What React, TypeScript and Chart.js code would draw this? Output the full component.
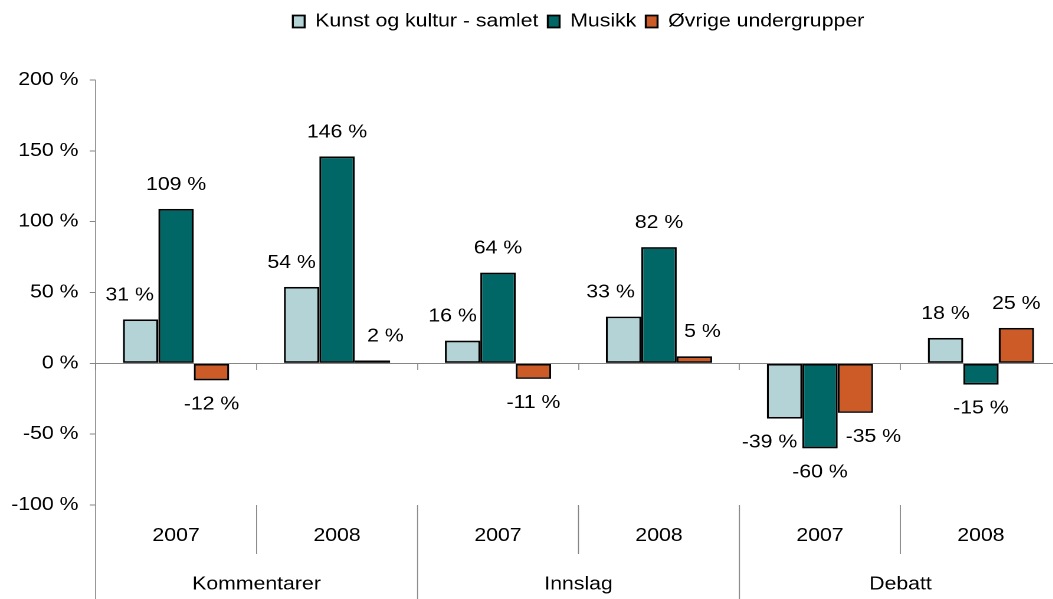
import React, { useEffect, useRef } from 'react';
import { Chart, registerables } from 'chart.js';

Chart.register(...registerables);

// ---- data ----
const categories = ['2007', '2008', '2007', '2008', '2007', '2008'];
const groups = ['Kommentarer', 'Innslag', 'Debatt'];
const seriesNames = ['Kunst og kultur - samlet', 'Musikk', 'Øvrige undergrupper'];
const kunstOgKultur = [31, 54, 16, 33, -39, 18];
const musikk = [109, 146, 64, 82, -60, -15];
const ovrigeUndergrupper = [-12, 2, -11, 5, -35, 25];
const yTickValues = [-100, -50, 0, 50, 100, 150, 200];

// ---- styling / layout ----
const COLORS = ['#B3D3D7', '#006666', '#CC5B27'];
const AXIS_GRAY = '#868686';
const FONT_FAMILY = '"Liberation Sans", Arial, sans-serif';
const STRETCH = 1.18; // horizontal stretch of the whole picture
const W = 905;
const H = 599;
// horizontal nudges of value labels (final pixels) per series / category
const labelNudgeX = [
  [-11, -10, -10, -13, -15, 0],
  [0, 0, 0, 0, 0, 0],
  [0, 13, 0, 8, 18, 0],
];

const legendSpacer = {
  id: 'legendSpacer',
  beforeInit(chart: any) {
    const legend = chart.legend;
    if (!legend) return;
    const origFit = legend.fit;
    legend.fit = function () {
      origFit.call(this);
      this.height += 39.5;
    };
  },
};

const valueLabels = {
  id: 'valueLabels',
  afterDatasetsDraw(chart: any) {
    const { ctx } = chart;
    ctx.save();
    ctx.font = `18px ${FONT_FAMILY}`;
    ctx.fillStyle = '#000';
    ctx.textAlign = 'center';
    ctx.textBaseline = 'middle';
    chart.data.datasets.forEach((ds: any, di: number) => {
      const meta = chart.getDatasetMeta(di);
      meta.data.forEach((el: any, j: number) => {
        const v = ds.data[j];
        const { x, y } = el.getProps(['x', 'y'], true);
        const ty = v >= 0 ? y - 24 : y + 24;
        ctx.fillText(`${v} %`, x + labelNudgeX[di][j] / STRETCH, ty);
      });
    });
    ctx.restore();
  },
};

const groupAxis = {
  id: 'groupAxis',
  afterDraw(chart: any) {
    const { ctx, chartArea } = chart;
    const x = chart.scales.x;
    const n = categories.length;
    const step = x.getPixelForValue(1) - x.getPixelForValue(0);
    ctx.save();
    ctx.strokeStyle = AXIS_GRAY;
    ctx.lineWidth = 1 / STRETCH;
    for (let i = 0; i <= n; i++) {
      const bx = i < n ? x.getPixelForValue(i) - step / 2 : x.getPixelForValue(n - 1) + step / 2;
      const groupEdge = i % 2 === 0;
      ctx.beginPath();
      ctx.moveTo(bx, chartArea.bottom);
      ctx.lineTo(bx, groupEdge ? chart.height : chartArea.bottom + 49);
      ctx.stroke();
    }
    ctx.font = `18px ${FONT_FAMILY}`;
    ctx.fillStyle = '#000';
    ctx.textAlign = 'center';
    ctx.textBaseline = 'middle';
    categories.forEach((c, i) => {
      ctx.fillText(c, x.getPixelForValue(i), chartArea.bottom + 31);
    });
    groups.forEach((g, k) => {
      const cx = (x.getPixelForValue(2 * k) + x.getPixelForValue(2 * k + 1)) / 2;
      ctx.fillText(g, cx, chartArea.bottom + 79.5);
    });
    ctx.restore();
  },
};

export default function App() {
  const ref = useRef<HTMLCanvasElement | null>(null);

  useEffect(() => {
    if (!ref.current) return;
    const seriesData = [kunstOgKultur, musikk, ovrigeUndergrupper];
    const chart = new Chart(ref.current, {
      type: 'bar',
      data: {
        labels: categories,
        datasets: seriesNames.map((name, i) => ({
          label: name,
          data: seriesData[i],
          backgroundColor: COLORS[i],
          borderColor: '#000',
          borderWidth: 1.7,
          borderSkipped: false,
          barPercentage: 1,
          categoryPercentage: 0.66,
        })),
      },
      options: {
        animation: false,
        responsive: false,
        devicePixelRatio: 2,
        layout: { padding: { top: 4.5, left: 0, right: 5.5, bottom: 94 } },
        plugins: {
          legend: {
            display: true,
            position: 'top',
            fullSize: false,
            labels: {
              font: { family: FONT_FAMILY, size: 18 },
              color: '#000',
              boxWidth: 10,
              boxHeight: 12,
              padding: 8,
            },
          },
          tooltip: { enabled: false },
        },
        scales: {
          x: {
            type: 'category',
            position: { y: 0 } as any,
            offset: true,
            grid: {
              display: true,
              drawOnChartArea: false,
              drawTicks: true,
              tickLength: 6,
              offset: true,
              color: AXIS_GRAY,
              lineWidth: 1 / STRETCH,
            },
            border: { display: true, color: AXIS_GRAY, width: 1 },
            ticks: { display: false },
            afterFit: (s: any) => {
              s.height = 0;
            },
          },
          y: {
            min: yTickValues[0],
            max: yTickValues[yTickValues.length - 1],
            ticks: {
              stepSize: yTickValues[1] - yTickValues[0],
              callback: (v: any) => `${v} %`,
              font: { family: FONT_FAMILY, size: 18 },
              color: '#000',
              padding: 9.5,
            },
            grid: {
              display: true,
              drawOnChartArea: false,
              drawTicks: true,
              tickLength: 5,
              color: AXIS_GRAY,
            },
            border: { display: true, color: AXIS_GRAY, width: 1 / STRETCH },
            afterFit: (s: any) => {
              s.width = 81;
            },
          },
        },
      },
      plugins: [legendSpacer, valueLabels, groupAxis],
    });
    return () => chart.destroy();
  }, []);

  return (
    <div
      style={{
        position: 'fixed',
        left: 0,
        top: 0,
        width: 1053,
        height: H,
        overflow: 'hidden',
        background: '#fff',
      }}
    >
      <div style={{ width: W, height: H, transform: `scaleX(${STRETCH})`, transformOrigin: '0 0' }}>
        <canvas ref={ref} width={W} height={H} style={{ display: 'block', width: W, height: H }} />
      </div>
    </div>
  );
}
